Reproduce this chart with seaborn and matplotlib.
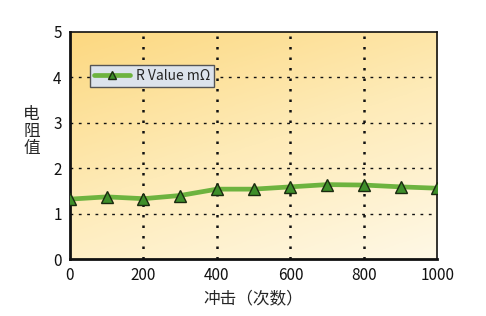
import numpy as np
import pandas as pd
import matplotlib
matplotlib.use("Agg")
import matplotlib.pyplot as plt
import seaborn as sns
from matplotlib.colors import LinearSegmentedColormap

impacts = [0, 100, 200, 300, 400, 500, 600, 700, 800, 900, 1000]
r_values = [1.32, 1.37, 1.33, 1.40, 1.54, 1.54, 1.59, 1.64, 1.63, 1.59, 1.56]
series_name = "R Value mΩ"
x_ticks = [0, 200, 400, 600, 800, 1000]
y_ticks = [0, 1, 2, 3, 4, 5]

sns.set_theme(style="white")
plt.rcParams['font.family'] = ['Noto Sans CJK SC', 'DejaVu Sans']

df = pd.DataFrame({"impacts": impacts, "r": r_values})

fig = plt.figure(figsize=(4.86, 3.16), dpi=100)
fig.patch.set_facecolor("white")
ax = fig.add_axes([0.144, 0.180, 0.756, 0.719])

# gradient background: orange at top-left, pale at bottom-right
n = 200
xx, yy = np.meshgrid(np.linspace(0, 1, n), np.linspace(0, 1, n))
t = np.clip(yy * 0.65 + xx * 0.35, 0, 1)  # row 0 = top
cmap = LinearSegmentedColormap.from_list("bg", ["#FCD880", "#FEEBB8", "#FFF8E6"])
ax.imshow(t, cmap=cmap, extent=[0, 1, 0, 1], transform=ax.transAxes,
          aspect="auto", origin="upper", zorder=0)

sns.lineplot(data=df, x="impacts", y="r", ax=ax, color="#6DB33F", linewidth=3.4,
             marker="^", markersize=8, markerfacecolor="#3E8E2A",
             markeredgecolor="#1a2a10", markeredgewidth=1.0, label=series_name,
             zorder=3)

ax.set_xlim(0, 1000)
ax.set_ylim(0, 5)
ax.set_xticks(x_ticks)
ax.set_yticks(y_ticks)
ax.set_xticklabels([str(v) for v in x_ticks], fontsize=11)
ax.set_yticklabels([str(v) for v in y_ticks], fontsize=11)
ax.tick_params(axis="both", length=0, pad=6, colors="#111111")

for xv in x_ticks[1:-1]:
    ax.axvline(xv, color="#111111", linestyle=(0, (1, 3.2)), linewidth=1.8, zorder=1)
for yv in y_ticks[1:-1]:
    ax.axhline(yv, color="#111111", linestyle=(0, (2, 4)), linewidth=1.0, zorder=1)

for s in ax.spines.values():
    s.set_visible(True)
    s.set_color("#111111")
ax.spines["left"].set_linewidth(2.0)
ax.spines["bottom"].set_linewidth(2.0)
ax.spines["top"].set_linewidth(1.2)
ax.spines["right"].set_linewidth(1.2)

ax.set_xlabel("冲击（次数）", fontsize=12, labelpad=4)
ax.set_ylabel("电\n阻\n值", fontsize=12, rotation=0, va="center",
              linespacing=1.0)
ax.yaxis.set_label_coords(-0.105, 0.56)

leg = ax.legend(loc="upper left", bbox_to_anchor=(0.035, 0.885), fontsize=10,
                frameon=True, fancybox=False, handlelength=2.6,
                borderpad=0.3, handletextpad=0.4)
leg.get_frame().set_facecolor("#DCE3EC")
leg.get_frame().set_edgecolor("#555555")
leg.get_frame().set_alpha(1.0)
leg.get_frame().set_linewidth(1.0)
for h in leg.legend_handles:
    h.set_markersize(6)

fig.savefig("out.png", dpi=100)
